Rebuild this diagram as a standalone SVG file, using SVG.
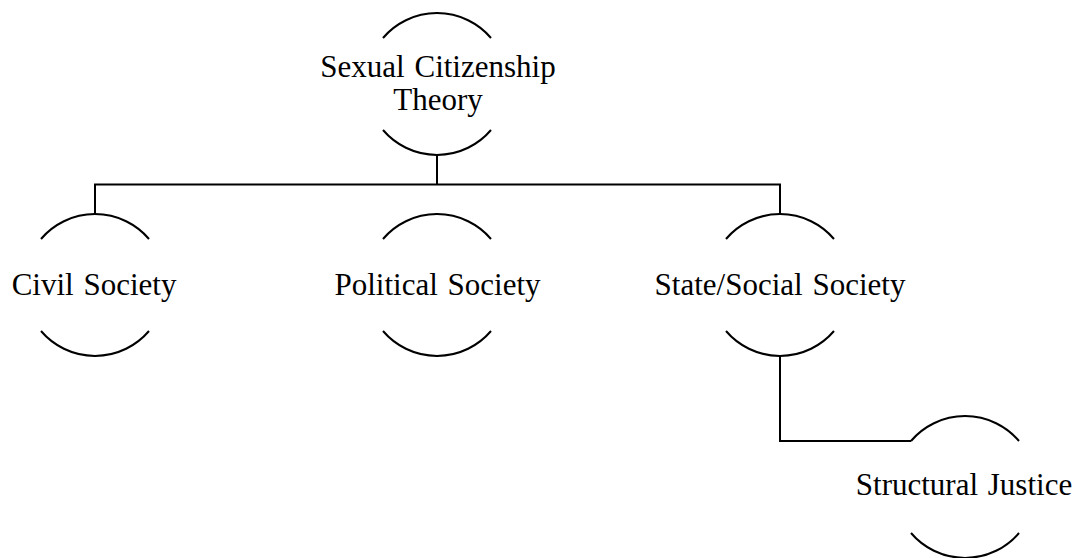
<svg xmlns="http://www.w3.org/2000/svg" width="1080" height="558" viewBox="0 0 1080 558">
  <style>
    .arc { fill: none; stroke: #000; stroke-width: 2; }
    .conn { fill: none; stroke: #000; stroke-width: 2; }
    .lbl { font-family: "Liberation Serif", "Times New Roman", serif; font-size: 31px; fill: #000; text-anchor: middle; word-spacing: 2px; }
  </style>
  <rect width="1080" height="558" fill="#fff"/>
  <g id="connectors">
    <path class="conn" d="M437 155 V184.5 M95 213 V184.5 H780 V213"/>
    <path class="conn" d="M780 356 V441 H911"/>
  </g>
  <g id="node-sexual-citizenship-theory">
    <path class="arc" d="M383 38 A71 71 0 0 1 491 38"/>
    <path class="arc" d="M383 130 A71 71 0 0 0 491 130"/>
    <text class="lbl" x="438" y="77">Sexual Citizenship</text>
    <text class="lbl" x="438" y="110">Theory</text>
  </g>
  <g id="node-civil-society">
    <path class="arc" d="M41 239 A71 71 0 0 1 149 239"/>
    <path class="arc" d="M41 331 A71 71 0 0 0 149 331"/>
    <text class="lbl" x="94" y="295">Civil Society</text>
  </g>
  <g id="node-political-society">
    <path class="arc" d="M383 239 A71 71 0 0 1 491 239"/>
    <path class="arc" d="M383 331 A71 71 0 0 0 491 331"/>
    <text class="lbl" x="437.5" y="295">Political Society</text>
  </g>
  <g id="node-state-social-society">
    <path class="arc" d="M726 239 A71 71 0 0 1 834 239"/>
    <path class="arc" d="M726 331 A71 71 0 0 0 834 331"/>
    <text class="lbl" x="780" y="295">State/Social Society</text>
  </g>
  <g id="node-structural-justice">
    <path class="arc" d="M911 441 A71 71 0 0 1 1019 441"/>
    <path class="arc" d="M911 533 A71 71 0 0 0 1019 533"/>
    <text class="lbl" x="964" y="495">Structural Justice</text>
  </g>
</svg>
